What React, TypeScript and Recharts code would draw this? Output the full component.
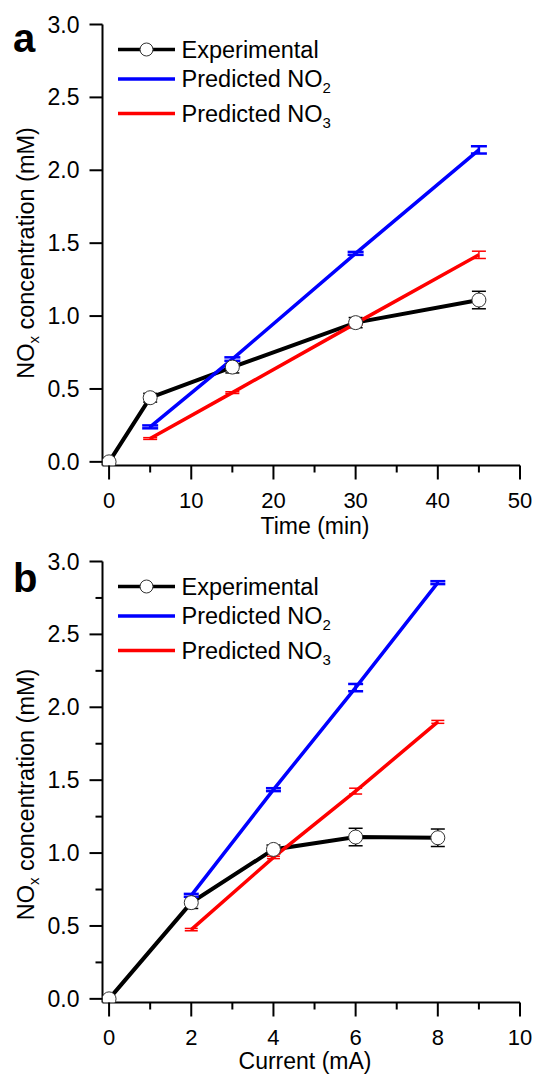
import React from 'react';
import { LineChart, Line, XAxis, YAxis, ErrorBar, Legend } from 'recharts';

const FONT = '"Liberation Sans", Arial, Helvetica, sans-serif';

// ---- Panel a: NOx vs time ----
const timeX = [0, 5, 15, 30, 45];
const expByTime = [0, 0.44, 0.65, 0.955, 1.11];
const expByTimeErr = [0, 0.03, 0.04, 0.035, 0.06];
const predTimeX = [5, 15, 30, 45];
const no2ByTime = [0.24, 0.705, 1.43, 2.14];
const no2ByTimeErr = [0.01, 0.012, 0.01, 0.025];
const no3ByTime = [0.16, 0.475, 0.95, 1.42];
const no3ByTimeErr = [0.006, 0.006, 0.01, 0.025];

// ---- Panel b: NOx vs current ----
const currentX = [0, 2, 4, 6, 8];
const expByCurrent = [0, 0.66, 1.025, 1.11, 1.105];
const expByCurrentErr = [0, 0.04, 0.03, 0.06, 0.06];
const predCurrentX = [2, 4, 6, 8];
const no2ByCurrent = [0.71, 1.435, 2.135, 2.855];
const no2ByCurrentErr = [0.01, 0.01, 0.025, 0.01];
const no3ByCurrent = [0.475, 0.97, 1.425, 1.9];
const no3ByCurrentErr = [0.008, 0.008, 0.02, 0.01];

// ---- ticks ----
const timeTicks = [0, 5, 10, 15, 20, 25, 30, 35, 40, 45, 50];
const timeMajor = [0, 10, 20, 30, 40, 50];
const currentTicks = [0, 1, 2, 3, 4, 5, 6, 7, 8, 9, 10];
const currentMajor = [0, 2, 4, 6, 8, 10];
const concTicksA = [0, 0.5, 1, 1.5, 2, 2.5, 3];
const concTicksB = [0, 0.25, 0.5, 0.75, 1, 1.25, 1.5, 1.75, 2, 2.25, 2.5, 2.75, 3];
const concMajor = [0, 0.5, 1, 1.5, 2, 2.5, 3];

type Pt = { x: number; y: number; err: number };
const zipSeries = (xs: number[], ys: number[], es: number[]): Pt[] =>
  xs.map((x, i) => ({ x, y: ys[i], err: es[i] }));

const isIn = (arr: number[], v: number) => arr.some((m) => Math.abs(m - v) < 1e-9);

function makeXTick(majors: number[]) {
  return (props: any) => {
    const { x, y, payload } = props;
    const v = payload.value;
    const major = isIn(majors, v);
    return (
      <g>
        <line x1={x} y1={y} x2={x} y2={y + (major ? 14 : 7)} stroke="#000" strokeWidth={2} />
        {major ? (
          <text x={x} y={y + 42} textAnchor="middle" fontSize={22} fontFamily={FONT} fill="#000">
            {v}
          </text>
        ) : null}
      </g>
    );
  };
}

function makeYTick(majors: number[]) {
  return (props: any) => {
    const { x, y, payload } = props;
    const v = payload.value;
    const major = isIn(majors, v);
    return (
      <g>
        <line x1={x - (major ? 13 : 7)} y1={y} x2={x} y2={y} stroke="#000" strokeWidth={2} />
        {major ? (
          <text x={x - 23} y={y + 8} textAnchor="end" fontSize={23} fontFamily={FONT} fill="#000">
            {v.toFixed(1)}
          </text>
        ) : null}
      </g>
    );
  };
}

const LegendBox = () => (
  <svg width={360} height={140} style={{ display: 'block', overflow: 'visible' }}>
    <line x1={118} y1={49.5} x2={175} y2={49.5} stroke="#000" strokeWidth={3.5} />
    <circle cx={146.5} cy={49.5} r={6.5} fill="#fff" stroke="#333" strokeWidth={1} />
    <text x={181.5} y={57.5} fontSize={23.5} fontFamily={FONT} fill="#000">Experimental</text>
    <line x1={118} y1={79} x2={175} y2={79} stroke="#0000ff" strokeWidth={3.5} />
    <text x={181.5} y={87} fontSize={23.5} fontFamily={FONT} fill="#000">
      Predicted NO<tspan fontSize={15} dy={6}>2</tspan>
    </text>
    <line x1={118} y1={113.5} x2={175} y2={113.5} stroke="#ff0000" strokeWidth={3.5} />
    <text x={181.5} y={121.5} fontSize={23.5} fontFamily={FONT} fill="#000">
      Predicted NO<tspan fontSize={15} dy={6}>3</tspan>
    </text>
  </svg>
);

type PanelProps = {
  letter: string;
  letterBaseline: number;
  xTitle: string;
  xTitleCenter: number;
  xTitleBaseline: number;
  yTitleCenter: number;
  xDomain: [number, number];
  xTicks: number[];
  xMajor: number[];
  yTicks: number[];
  exp: Pt[];
  no2: Pt[];
  no3: Pt[];
  capW: number;
};

const axisLineStyle = { stroke: '#000', strokeWidth: 2 };

function Panel(p: PanelProps) {
  const yDomain: [number, number] = [-0.025, 3];
  return (
    <div style={{ position: 'relative', width: 537, height: 537 }}>
      <LineChart width={537} height={537} margin={{ top: 24.5, right: 17, bottom: 0, left: 0 }}>
        <Line
          data={p.exp}
          dataKey="y"
          stroke="#000"
          strokeWidth={4}
          dot={{ r: 7, fill: '#fff', stroke: '#333', strokeWidth: 1 }}
          activeDot={false}
          isAnimationActive={false}
          legendType="none"
        />
        <Line
          data={p.exp}
          dataKey="y"
          stroke="none"
          dot={false}
          activeDot={false}
          isAnimationActive={false}
          legendType="none"
        >
          <ErrorBar dataKey="err" direction="y" width={7} stroke="#000" strokeWidth={1.5} isAnimationActive={false} />
        </Line>
        <Line
          data={p.no2}
          dataKey="y"
          stroke="#0000ff"
          strokeWidth={3.5}
          dot={false}
          activeDot={false}
          isAnimationActive={false}
          legendType="none"
        >
          <ErrorBar dataKey="err" direction="y" width={p.capW + 1} stroke="#0000ff" strokeWidth={2.5} isAnimationActive={false} />
        </Line>
        <Line
          data={p.no3}
          dataKey="y"
          stroke="#ff0000"
          strokeWidth={3.5}
          dot={false}
          activeDot={false}
          isAnimationActive={false}
          legendType="none"
        >
          <ErrorBar dataKey="err" direction="y" width={p.capW} stroke="#ff0000" strokeWidth={1.5} isAnimationActive={false} />
        </Line>
        <XAxis
          type="number"
          dataKey="x"
          domain={p.xDomain}
          allowDataOverflow
          ticks={p.xTicks}
          interval={0}
          tickLine={false}
          tickSize={0}
          tickMargin={0}
          height={71.5}
          axisLine={axisLineStyle}
          tick={makeXTick(p.xMajor)}
          label={{
            content: () => (
              <text x={p.xTitleCenter} y={p.xTitleBaseline} textAnchor="middle" fontSize={23} fontFamily={FONT} fill="#000">
                {p.xTitle}
              </text>
            ),
          }}
        />
        <YAxis
          type="number"
          domain={yDomain}
          allowDataOverflow
          ticks={p.yTicks}
          interval={0}
          tickLine={false}
          tickSize={0}
          tickMargin={0}
          width={102.5}
          axisLine={axisLineStyle}
          tick={makeYTick(concMajor)}
          label={{
            content: () => (
              <text
                x={33.5}
                y={p.yTitleCenter}
                textAnchor="middle"
                fontSize={23.5}
                fontFamily={FONT}
                fill="#000"
                transform={`rotate(-90, 33.5, ${p.yTitleCenter})`}
              >
                NO<tspan fontSize={15} dy={5}>x</tspan>
                <tspan dy={-5}> concentration (mM)</tspan>
              </text>
            ),
          }}
        />
        <XAxis
          xAxisId="top"
          orientation="top"
          type="number"
          domain={p.xDomain}
          allowDataOverflow
          height={0}
          tick={false}
          tickLine={false}
          axisLine={axisLineStyle}
        />
        <YAxis
          yAxisId="right"
          orientation="right"
          type="number"
          domain={yDomain}
          allowDataOverflow
          width={0}
          tick={false}
          tickLine={false}
          axisLine={axisLineStyle}
        />
        <Legend
          layout="vertical"
          align="center"
          verticalAlign="middle"
          wrapperStyle={{ left: 0, top: 0, width: 360, height: 140 }}
          content={() => <LegendBox />}
        />
      </LineChart>
      <svg
        width={80}
        height={80}
        style={{ position: 'absolute', left: 0, top: 0, pointerEvents: 'none', overflow: 'visible' }}
      >
        <text x={13} y={p.letterBaseline} fontSize={40} fontWeight="bold" fontFamily={FONT} fill="#000">
          {p.letter}
        </text>
      </svg>
    </div>
  );
}

export default function App() {
  return (
    <div
      style={{
        position: 'absolute',
        left: 0,
        top: 0,
        width: 537,
        height: 1074,
        background: '#fff',
        fontFamily: FONT,
      }}
    >
      <style>{'.recharts-surface{overflow:visible}'}</style>
      <Panel
        letter="a"
        letterBaseline={51.5}
        xTitle="Time (min)"
        xTitleCenter={315}
        xTitleBaseline={534}
        yTitleCenter={253}
        xDomain={[-0.8, 50]}
        xTicks={timeTicks}
        xMajor={timeMajor}
        yTicks={concTicksA}
        exp={zipSeries(timeX, expByTime, expByTimeErr)}
        no2={zipSeries(predTimeX, no2ByTime, no2ByTimeErr)}
        no3={zipSeries(predTimeX, no3ByTime, no3ByTimeErr)}
        capW={7}
      />
      <Panel
        letter="b"
        letterBaseline={55}
        xTitle="Current (mA)"
        xTitleCenter={305}
        xTitleBaseline={532}
        yTitleCenter={257.5}
        xDomain={[-0.16, 10]}
        xTicks={currentTicks}
        xMajor={currentMajor}
        yTicks={concTicksB}
        exp={zipSeries(currentX, expByCurrent, expByCurrentErr)}
        no2={zipSeries(predCurrentX, no2ByCurrent, no2ByCurrentErr)}
        no3={zipSeries(predCurrentX, no3ByCurrent, no3ByCurrentErr)}
        capW={6.5}
      />
    </div>
  );
}
